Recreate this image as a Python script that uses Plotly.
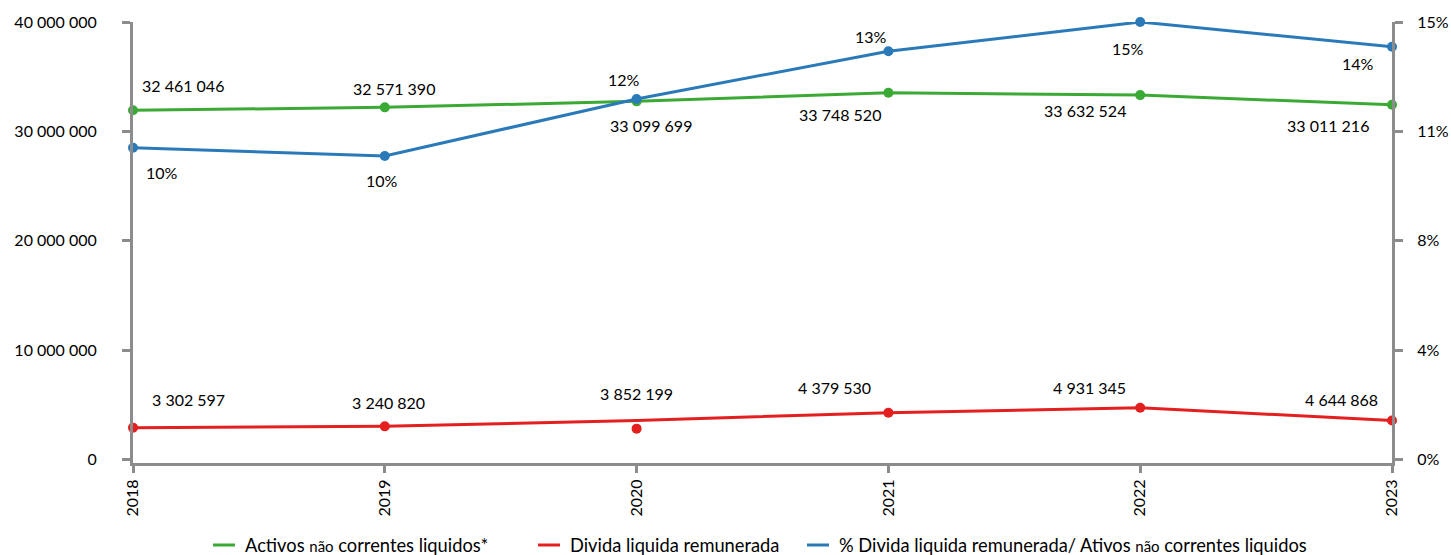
import plotly.graph_objects as go

years = ["2018", "2019", "2020", "2021", "2022", "2023"]

# Values as drawn
activos = [31.93e6, 32.2e6, 32.75e6, 33.53e6, 33.32e6, 32.44e6]
divida_line = [2.93e6, 3.05e6, 3.59e6, 4.29e6, 4.75e6, 3.59e6]
divida_dots = [2.93e6, 3.05e6, 2.84e6, 4.29e6, 4.75e6, 3.59e6]
pct = [10.69, 10.41, 12.36, 14.0, 15.0, 14.15]

# Data label texts
activos_lbl = ["32 461 046", "32 571 390", "33 099 699", "33 748 520", "33 632 524", "33 011 216"]
divida_lbl = ["3 302 597", "3 240 820", "3 852 199", "4 379 530", "4 931 345", "4 644 868"]
pct_lbl = ["10%", "10%", "12%", "13%", "15%", "14%"]

left_ticks = [0, 10e6, 20e6, 30e6, 40e6]
left_ticktext = ["0", "10 000 000", "20 000 000", "30 000 000", "40 000 000"]
right_ticks = [0, 3.75, 7.5, 11.25, 15]
right_ticktext = ["0%", "4%", "8%", "11%", "15%"]

small = '<span style="font-size:15px">não</span>'
series_names = ["Activos " + small + " correntes liquidos*",
                "Divida liquida remunerada",
                "% Divida liquida remunerada/ Ativos " + small + " correntes liquidos"]

GREEN = "#3aaa35"
RED = "#e3201f"
BLUE = "#2a7ab9"
GRAY = "#8c8c8c"
FONT = "Lato"
NUM = 16

# layout geometry (pixels)
W, H = 1451, 555
ML, MR, MT, MB = 133, 59, 22, 92
PW, PH = W - ML - MR, H - MT - MB

# label offsets in pixels (dx, dy with dy positive downward)
act_off = [(50, -25), (9, -19), (14, 24), (-48, 22), (-55, 15), (-64, 21)]
div_off = [(55, -28), (4, -24), (0, -27), (-54, -25), (-51, -20), (-51, -21)]
pct_off = [(29, 25), (-3, 25), (-13, -20), (-17, -15), (-12, 26), (-34, 17)]

fig = go.Figure()
fig.add_trace(go.Scatter(x=years, y=activos, mode="lines+markers", name=series_names[0],
                         line=dict(color=GREEN, width=3), marker=dict(size=10, color=GREEN),
                         cliponaxis=False))
fig.add_trace(go.Scatter(x=years, y=divida_line, mode="lines", name=series_names[1],
                         line=dict(color=RED, width=3), cliponaxis=False))
fig.add_trace(go.Scatter(x=years, y=divida_dots, mode="markers", name=series_names[1],
                         marker=dict(size=10, color=RED), cliponaxis=False))
fig.add_trace(go.Scatter(x=years, y=pct, mode="lines+markers", yaxis="y2", name=series_names[2],
                         line=dict(color=BLUE, width=3), marker=dict(size=10, color=BLUE),
                         cliponaxis=False))

ann = []
for i in range(len(years)):
    dx, dy = act_off[i]
    ann.append(dict(x=i, y=activos[i], xref="x", yref="y", text=activos_lbl[i], showarrow=False,
                    xshift=dx, yshift=-dy, font=dict(size=NUM, color="black", family=FONT)))
    dx, dy = div_off[i]
    ann.append(dict(x=i, y=divida_line[i], xref="x", yref="y", text=divida_lbl[i], showarrow=False,
                    xshift=dx, yshift=-dy, font=dict(size=NUM, color="black", family=FONT)))
    dx, dy = pct_off[i]
    ann.append(dict(x=i, y=pct[i], xref="x", yref="y2", text=pct_lbl[i], showarrow=False,
                    xshift=dx, yshift=-dy, font=dict(size=NUM, color="black", family=FONT)))

# manual legend (line sample + text) below the plot
leg_x = [213, 538, 807]
leg_y = 545
leg_cols = [GREEN, RED, BLUE]
shapes = []
py = (MT + PH - leg_y) / PH
for lx, col, nm in zip(leg_x, leg_cols, series_names):
    shapes.append(dict(type="line", xref="paper", yref="paper",
                       x0=(lx - ML) / PW, x1=(lx + 22 - ML) / PW, y0=py, y1=py,
                       line=dict(color=col, width=3)))
    ann.append(dict(xref="paper", yref="paper", x=(lx + 30 - ML) / PW, y=py,
                    xanchor="left", yanchor="middle", text=nm, showarrow=False,
                    font=dict(size=18.3, color="black", family=FONT)))

fig.update_layout(
    width=W, height=H,
    margin=dict(l=ML, r=MR, t=MT, b=MB, autoexpand=False),
    plot_bgcolor="white", paper_bgcolor="white",
    font=dict(family=FONT, size=NUM, color="black"),
    showlegend=False,
    xaxis=dict(type="category", range=[0, 5], showgrid=False, zeroline=False,
               showline=True, linecolor=GRAY, linewidth=3,
               ticks="outside", ticklen=7, tickwidth=3, tickcolor=GRAY,
               tickangle=-90, tickfont=dict(size=NUM, family=FONT)),
    yaxis=dict(range=[-0.3e6, 40e6], tickvals=left_ticks, ticktext=left_ticktext,
               showgrid=False, zeroline=False, showline=True, linecolor=GRAY, linewidth=3,
               ticks="outside", ticklen=8, tickwidth=3, tickcolor=GRAY, ticklabelstandoff=22,
               tickfont=dict(size=NUM, family=FONT)),
    yaxis2=dict(range=[-0.1125, 15], tickvals=right_ticks, ticktext=right_ticktext,
                overlaying="y", side="right", showgrid=False, zeroline=False,
                showline=True, linecolor=GRAY, linewidth=3,
                ticks="outside", ticklen=8, tickwidth=3, tickcolor=GRAY, ticklabelstandoff=11,
                tickfont=dict(size=NUM, family=FONT)),
    annotations=ann,
    shapes=shapes,
)

fig.write_html("out.html")
